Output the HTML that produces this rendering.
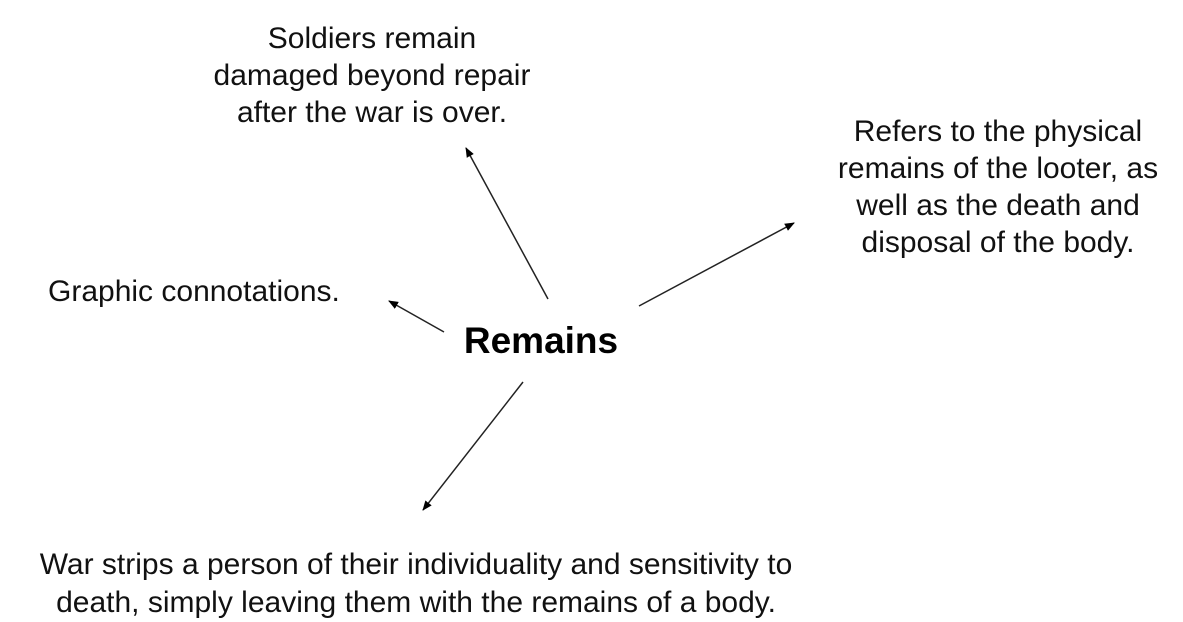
<!DOCTYPE html>
<html><head><style>
body{margin:0;width:1183px;height:618px;background:#fff;overflow:hidden;position:relative;font-family:"Liberation Sans",Arial,sans-serif;color:#000}
.t{position:absolute;font-size:30px;line-height:35px;text-align:center;white-space:nowrap;color:#111}
</style></head><body>
<div class="t" style="left:172px;top:20px;width:400px;line-height:37px">Soldiers remain<br>damaged beyond repair<br>after the war is over.</div>
<div class="t" style="left:798px;top:113px;width:400px;line-height:37px">Refers to the physical<br>remains of the looter, as<br>well as the death and<br>disposal of the body.</div>
<div class="t" style="left:48px;top:274px;text-align:left">Graphic connotations.</div>
<div class="t" style="left:441px;top:321px;width:200px;font-size:37px;font-weight:bold;line-height:40px;color:#000">Remains</div>
<div class="t" style="left:16px;top:546px;width:800px;line-height:38px">War strips a person of their individuality and sensitivity to<br>death, simply leaving them with the remains of a body.</div>
<svg width="1183" height="618" style="position:absolute;left:0;top:0">
<defs><marker id="a" markerWidth="10" markerHeight="8" refX="9" refY="4" orient="auto" markerUnits="userSpaceOnUse"><path d="M0,0L10,4L0,8z" fill="#000"/></marker></defs>
<g stroke="#222" stroke-width="1.5" marker-end="url(#a)">
<line x1="548" y1="299" x2="466" y2="148"/>
<line x1="639" y1="306" x2="794" y2="223"/>
<line x1="444" y1="332" x2="389" y2="301"/>
<line x1="523" y1="382" x2="423" y2="510"/>
</g></svg>
</body></html>
